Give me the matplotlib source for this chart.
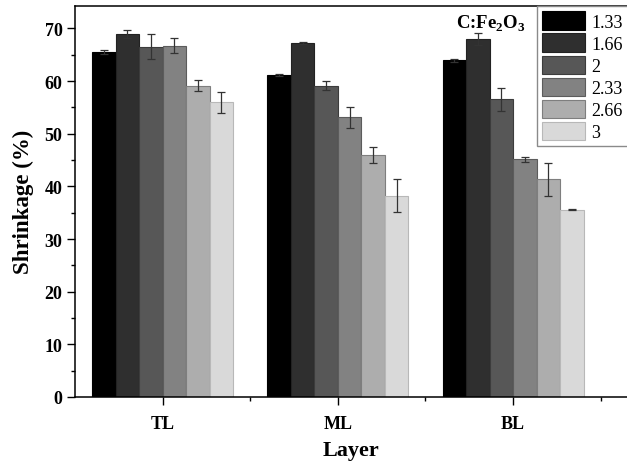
import matplotlib
matplotlib.use("Agg")
import matplotlib.pyplot as plt
import numpy as np
from matplotlib.ticker import MultipleLocator

plt.rcParams['font.family'] = ['Liberation Serif', 'DejaVu Serif']
plt.rcParams['mathtext.fontset'] = 'custom'
plt.rcParams['mathtext.rm'] = 'Liberation Serif'
plt.rcParams['mathtext.bf'] = 'Liberation Serif:bold'

layers = ['TL', 'ML', 'BL']
ratios = ['1.33', '1.66', '2', '2.33', '2.66', '3']

# shrinkage (%) per C:Fe2O3 ratio, one value per layer
shrink = {
    '1.33': [65.5, 61.2, 63.9],
    '1.66': [68.9, 67.3, 67.9],
    '2':    [66.5, 59.1, 56.5],
    '2.33': [66.7, 53.1, 45.1],
    '2.66': [59.1, 46.0, 41.3],
    '3':    [56.0, 38.2, 35.6],
}
shrink_err = {
    '1.33': [0.3, 0.2, 0.2],
    '1.66': [0.7, 0.2, 1.15],
    '2':    [2.4, 0.85, 2.25],
    '2.33': [1.4, 2.0, 0.45],
    '2.66': [1.05, 1.55, 3.1],
    '3':    [2.0, 3.1, 0.15],
}

fills = ['#000000', '#2f2f2f', '#575757', '#828282', '#adadad', '#d9d9d9']
edges = ['#000000', '#222222', '#3c3c3c', '#5c5c5c', '#7e7e7e', '#b8b8b8']

fig = plt.figure(figsize=(6.27, 4.64), dpi=100)
ax = fig.add_axes([75 / 627, 66 / 464, 1 - 75 / 627, 391.3 / 464])

x = np.arange(1, len(layers) + 1)
bw = 0.134
for i, r in enumerate(ratios):
    off = (i - (len(ratios) - 1) / 2) * bw
    ax.bar(x + off, shrink[r], width=bw, color=fills[i], edgecolor=edges[i],
           linewidth=0.8, label=r, zorder=2)
    ax.errorbar(x + off, shrink[r], yerr=shrink_err[r], fmt='none',
                ecolor='#333333', elinewidth=0.9, capsize=3, capthick=0.9, zorder=3)

ax.set_xlim(0.5, 3.65)
ax.set_ylim(0, 74.3)
ax.set_xticks(x)
ax.set_xticklabels(layers, fontsize=13, fontweight='bold')
ax.set_xticks([1.5, 2.5, 3.5], minor=True)
ax.yaxis.set_major_locator(MultipleLocator(10))
ax.yaxis.set_minor_locator(MultipleLocator(5))
for lab in ax.get_yticklabels():
    lab.set_fontsize(13)
    lab.set_fontweight('bold')
ax.tick_params(which='major', direction='out', length=6, width=1, pad=3)
ax.tick_params(which='minor', direction='out', length=3, width=1)
ax.tick_params(axis='x', which='major', pad=7)
ax.spines['right'].set_visible(False)
for s in ['left', 'bottom', 'top']:
    ax.spines[s].set_linewidth(1.1)

ax.set_xlabel('Layer', fontsize=16, fontweight='bold', labelpad=6)
ax.set_ylabel('Shrinkage (%)', fontsize=16.5, fontweight='bold', labelpad=8)

leg = ax.legend(loc='upper left', bbox_to_anchor=(537 / 627, 1 - 7 / 464),
                bbox_transform=fig.transFigure, borderaxespad=0, fontsize=13,
                handlelength=2.35, handleheight=1.2, labelspacing=0.15,
                handletextpad=0.35, borderpad=0.3, fancybox=False, framealpha=1,
                edgecolor='#8a8a8a')
leg.get_frame().set_linewidth(1.0)

fig.text(456 / 627, 1 - 29 / 464, r'C:Fe$_{\mathbf{2}}$O$_{\mathbf{3}}$',
         fontsize=13.5, fontweight='bold', ha='left', va='baseline')

fig.savefig('out.png', dpi=100)
